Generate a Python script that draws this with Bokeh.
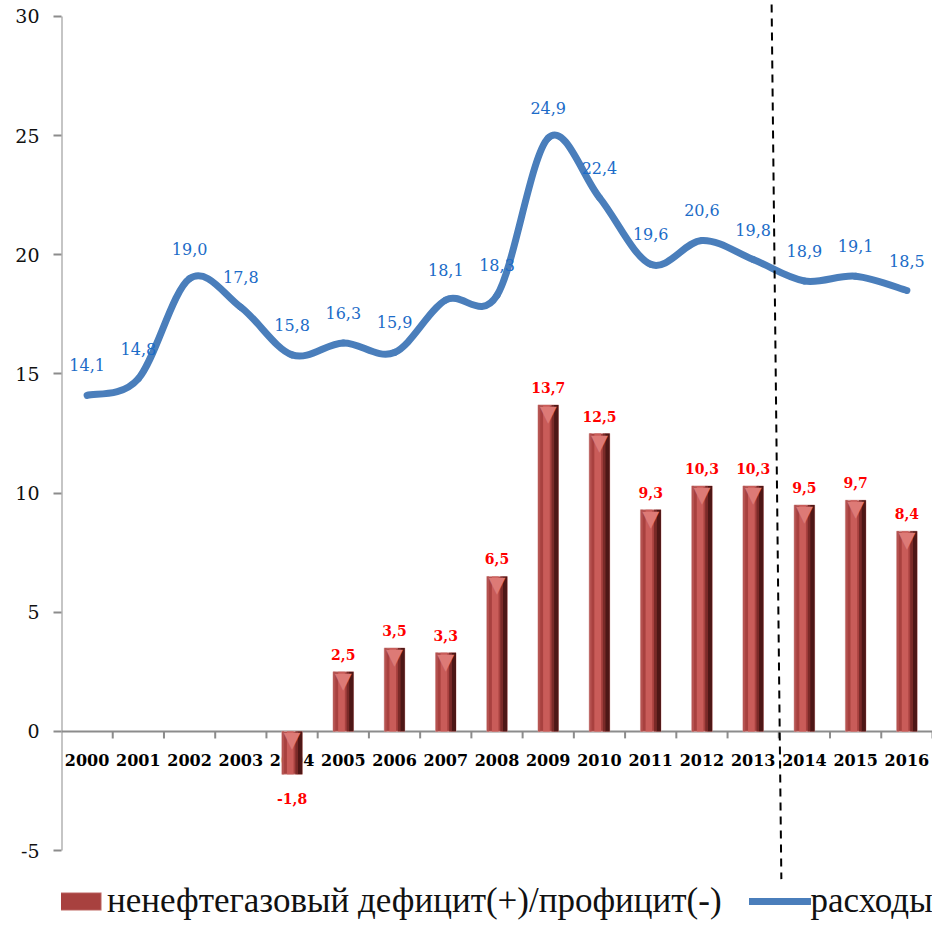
from bokeh.plotting import figure
from bokeh.models import (Range1d, FixedTicker, LinearAxis, Legend, LegendItem,
                          ColumnDataSource)
from bokeh.transform import dodge
from bokeh.core.properties import value
from bokeh.embed import file_html
from bokeh.resources import INLINE
import math

# ---------------- data ----------------
years = [str(y) for y in range(2000, 2017)]
spending = [14.1, 14.8, 19.0, 17.8, 15.8, 16.3, 15.9, 18.1, 18.3, 24.9,
            22.4, 19.6, 20.6, 19.8, 18.9, 19.1, 18.5]
bar_years = [str(y) for y in range(2004, 2017)]
deficit = [-1.8, 2.5, 3.5, 3.3, 6.5, 13.7, 12.5, 9.3, 10.3, 10.3, 9.5, 9.7, 8.4]
y_ticks = [-5, 0, 5, 10, 15, 20, 25, 30]
y_tick_labels = {t: str(t) for t in y_ticks}
forecast_start = "2014"
bar_label = "ненефтегазовый дефицит(+)/профицит(-)"
line_label = "расходы ФБ"

def fmt(v):
    return ("%.1f" % v).replace(".", ",")

# ---------------- figure ----------------
p = figure(width=932, height=921, x_range=Range1d(0, len(years)),
           y_range=Range1d(-7.978, 30.671), output_backend="svg",
           toolbar_location=None, x_axis_type=None, y_axis_type=None,
           min_border_left=61, min_border_right=0, min_border_top=0,
           min_border_bottom=0)
p.outline_line_color = None
p.background_fill_color = None

yaxis = LinearAxis(ticker=FixedTicker(ticks=y_ticks))
yaxis.axis_line_color = None
yaxis.major_tick_line_color = "#8c8c8c"
yaxis.major_tick_line_width = 2
yaxis.major_tick_out = 8
yaxis.major_tick_in = 0
yaxis.minor_tick_line_color = None
yaxis.major_label_overrides = y_tick_labels
yaxis.major_label_text_font = "DejaVu Serif"
yaxis.major_label_text_font_size = "19px"
yaxis.major_label_text_color = "#111111"
yaxis.major_label_standoff = 14
p.add_layout(yaxis, "left")

xpos = [i + 0.5 for i in range(len(years))]
bar_x = [years.index(y) + 0.5 for y in bar_years]

# manual axis lines (x axis sits at y=0)
p.segment(x0=[0], y0=[min(y_ticks)], x1=[0], y1=[max(y_ticks)],
          line_color="#8c8c8c", line_width=2)
p.segment(x0=[0], y0=[0], x1=[len(years)], y1=[0],
          line_color="#8c8c8c", line_width=2)
p.ray(x=list(range(1, len(years) + 1)), y=[0] * len(years), length=7,
      length_units="screen", angle=-math.pi / 2, line_color="#8c8c8c",
      line_width=2)

# x category labels (drawn below the bars, as in the original)
p.text(x=xpos, y=[0] * len(years), text=years, text_align="center",
       text_baseline="middle", y_offset=29, text_font=value("DejaVu Serif"),
       text_font_style="bold", text_font_size="16px", text_color="#000000")

# ---------------- bars ----------------
bsrc = ColumnDataSource(dict(
    x=bar_x, top=deficit, bottom=[0] * len(deficit),
    cap=[max(v, 0) for v in deficit],
    label=[fmt(v) for v in deficit],
    ly=deficit,
    loff=[-12 if v >= 0 else 19 for v in deficit],
    lbase=["bottom" if v >= 0 else "top" for v in deficit],
))
bar_r = p.vbar(x="x", top="top", bottom="bottom", width=0.40, source=bsrc,
               fill_color="#a8413f", line_color="#d9a3a1", line_width=0.8)
p.vbar(x=dodge("x", -0.035, range=p.x_range), top="top", bottom="bottom",
       width=0.13, source=bsrc, fill_color="#c95c59", line_color=None)
p.vbar(x=dodge("x", -0.175, range=p.x_range), top="top", bottom="bottom",
       width=0.04, source=bsrc, fill_color="#b55250", line_color=None)
p.vbar(x=dodge("x", 0.155, range=p.x_range), top="top", bottom="bottom",
       width=0.09, source=bsrc, fill_color="#4e1716", line_color=None)
p.vbar(x=dodge("x", 0.09, range=p.x_range), top="top", bottom="bottom",
       width=0.05, source=bsrc, fill_color="#7a2a28", line_color=None)
# top bevel
p.text(x="x", y="cap", text=value("▼"), source=bsrc, text_align="center",
       text_baseline="top", text_font=value("DejaVu Sans"),
       text_font_size="22px", text_color="#dd7a76", y_offset=-4)
p.text(x="x", y="ly", text="label", source=bsrc, text_align="center",
       text_baseline="lbase", y_offset="loff", text_font=value("DejaVu Serif"),
       text_font_style="bold", text_font_size="14px", text_color="#ff0000")

# ---------------- smoothed line ----------------
n = len(spending)
bx0, by0, bx1, by1, cx0, cy0, cx1, cy1 = [], [], [], [], [], [], [], []
for i in range(n - 1):
    a = i - 1 if i > 0 else i
    d = i + 2 if i + 2 < n else i + 1
    bx0.append(xpos[i]); by0.append(spending[i])
    bx1.append(xpos[i + 1]); by1.append(spending[i + 1])
    cx0.append(xpos[i] + (xpos[i + 1] - xpos[a]) / 6)
    cy0.append(spending[i] + (spending[i + 1] - spending[a]) / 6)
    cx1.append(xpos[i + 1] - (xpos[d] - xpos[i]) / 6)
    cy1.append(spending[i + 1] - (spending[d] - spending[i]) / 6)
line_r = p.bezier(x0=bx0, y0=by0, x1=bx1, y1=by1, cx0=cx0, cy0=cy0,
                  cx1=cx1, cy1=cy1, line_color="#4a7ebb", line_width=7,
                  line_cap="round")
p.text(x=xpos, y=spending, text=[fmt(v) for v in spending],
       text_align="center", text_baseline="middle", y_offset=-30,
       text_font=value("DejaVu Serif"), text_font_size="16px",
       text_color="#1c6cc8")

# forecast divider
fi = years.index(forecast_start)
p.segment(x0=[fi - 0.14], y0=[30.5], x1=[fi + 0.05], y1=[-6.2],
          line_color="#000000", line_width=2, line_dash="8 6")

# ---------------- legend ----------------
legend = Legend(items=[LegendItem(label=bar_label, renderers=[bar_r]),
                       LegendItem(label=line_label, renderers=[line_r])],
                location=(-16, 0), orientation="horizontal")
legend.border_line_color = None
legend.background_fill_alpha = 0
legend.padding = 0
legend.margin = 0
legend.spacing = 27
legend.glyph_width = 62
legend.glyph_height = 22
legend.label_standoff = 0
legend.label_text_font = "Liberation Serif"
legend.label_text_font_size = "35px"
legend.label_text_color = "#111111"
p.add_layout(legend)

open("out.html", "w").write(file_html(p, INLINE))
